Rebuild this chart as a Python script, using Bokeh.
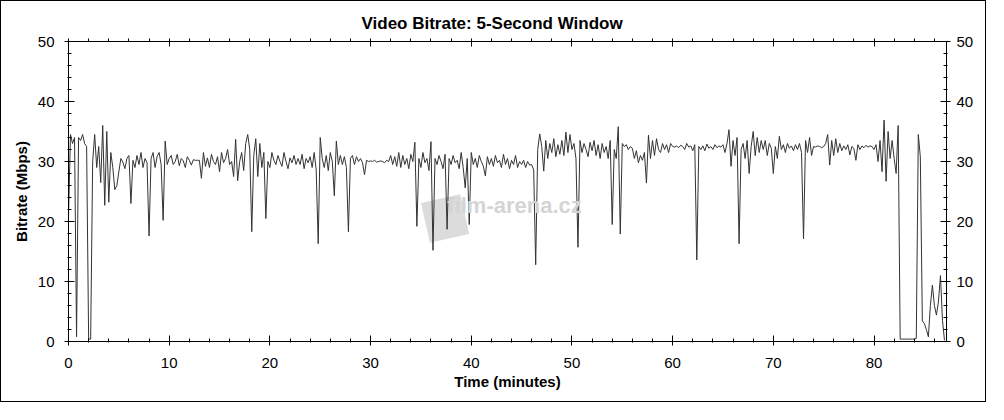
from bokeh.plotting import figure
from bokeh.models import LinearAxis, Range1d, Title, Label, SingleIntervalTicker
from bokeh.embed import file_html
from bokeh.resources import INLINE

# ---------------- data ----------------
chart_title = "Video Bitrate: 5-Second Window"
x_label = "Time (minutes)"
y_label = "Bitrate (Mbps)"
x_max_min = 87.2
y_max_mbps = 50
sample_step_min = 0.2  # one sample every 0.2 minutes
x_ticks = [0, 10, 20, 30, 40, 50, 60, 70, 80]

# bitrate in Mbps, one row per minute (5 samples each)
bitrate = [
    21.0, 34.5, 33.0, 34.0, 0.8,    # 0
    34.0, 33.5, 34.5, 33.0, 32.5,   # 1
    0.4, 0.4, 30.0, 34.5, 29.0,     # 2
    32.5, 26.5, 36.0, 22.7, 35.0,   # 3
    23.2, 31.5, 29.0, 25.3, 26.0,   # 4
    28.3, 30.5, 29.9, 28.8, 30.5,   # 5
    31.0, 23.0, 30.2, 29.0, 31.0,   # 6
    29.5, 31.5, 29.0, 30.5, 29.8,   # 7
    17.6, 30.5, 31.5, 29.0, 30.8,   # 8
    31.5, 29.5, 20.2, 33.4, 29.5,   # 9
    30.5, 31.0, 29.5, 30.0, 31.2,   # 10
    29.3, 30.5, 30.1, 29.0, 30.8,   # 11
    30.2, 29.4, 30.3, 30.2, 30.2,   # 12
    30.2, 27.2, 31.5, 29.2, 30.6,   # 13
    29.0, 31.2, 30.0, 29.5, 30.8,   # 14
    28.3, 31.5, 29.8, 30.5, 32.0,   # 15
    29.5, 30.0, 27.5, 33.7, 26.8,   # 16
    30.0, 31.5, 28.5, 33.0, 34.5,   # 17
    32.0, 18.3, 31.0, 33.8, 27.5,   # 18
    33.0, 29.0, 31.5, 20.5, 30.0,   # 19
    29.0, 31.5, 30.2, 29.5, 31.0,   # 20
    30.0, 29.2, 31.5, 30.0, 28.8,   # 21
    30.6, 29.8, 31.0, 29.5, 30.5,   # 22
    29.5, 31.2, 28.8, 30.5, 29.8,   # 23
    30.8, 29.0, 31.5, 28.6, 16.3,   # 24
    34.0, 30.5, 29.0, 31.0, 28.5,   # 25
    31.5, 30.0, 24.3, 33.4, 29.5,   # 26
    31.0, 29.5, 30.8, 29.0, 18.3,   # 27
    30.5, 31.0, 29.5, 30.8, 30.0,   # 28
    30.5, 29.8, 27.8, 30.2, 30.0,   # 29
    30.1, 30.0, 30.2, 29.9, 30.0,   # 30
    30.1, 30.0, 29.8, 30.2, 30.0,   # 31
    31.0, 29.5, 30.8, 29.2, 31.5,   # 32
    29.0, 31.0, 29.5, 30.5, 28.8,   # 33
    31.2, 30.0, 33.2, 19.2, 30.5,   # 34
    29.0, 31.5, 29.8, 30.5, 28.5,   # 35
    33.3, 15.2, 30.5, 29.5, 31.0,   # 36
    30.0, 28.8, 31.2, 18.7, 30.5,   # 37
    29.5, 31.0, 29.8, 30.2, 28.8,   # 38
    31.5, 29.0, 25.6, 30.5, 19.5,   # 39
    31.5, 29.5, 30.5, 29.0, 31.0,   # 40
    30.0, 29.2, 27.6, 30.8, 29.5,   # 41
    30.5, 29.2, 31.0, 29.8, 30.2,   # 42
    29.0, 31.2, 29.5, 30.5, 28.8,   # 43
    30.2, 29.5, 31.0, 29.0, 30.0,   # 44
    29.5, 30.2, 29.0, 30.0, 29.4,   # 45
    29.5, 28.6, 12.8, 32.0, 34.6,   # 46
    32.5, 28.4, 33.5, 30.5, 33.0,   # 47
    31.5, 33.8, 30.8, 32.8, 31.2,   # 48
    33.5, 31.0, 34.9, 31.5, 34.5,   # 49
    32.0, 33.0, 30.5, 15.7, 33.5,   # 50
    31.5, 33.0, 32.0, 30.8, 33.2,   # 51
    31.8, 33.5, 31.0, 32.8, 30.5,   # 52
    33.0, 31.5, 32.5, 30.5, 33.5,   # 53
    19.5, 32.0, 30.5, 35.8, 17.9,   # 54
    33.0, 32.5, 32.8, 32.0, 32.5,   # 55
    32.2, 30.5, 31.8, 29.8, 31.0,   # 56
    30.2, 31.5, 26.4, 34.4, 30.5,   # 57
    33.5, 31.0, 33.8, 32.0, 31.5,   # 58
    33.0, 32.0, 32.8, 31.5, 33.0,   # 59
    32.5, 32.4, 32.6, 32.3, 32.7,   # 60
    32.5, 32.0, 33.0, 32.4, 32.6,   # 61
    31.8, 32.8, 13.6, 32.5, 32.0,   # 62
    32.6, 31.8, 32.9, 32.2, 32.5,   # 63
    32.0, 32.8, 32.3, 32.6, 32.4,   # 64
    32.8, 31.5, 33.0, 35.3, 29.2,   # 65
    33.5, 31.0, 34.0, 16.3, 32.0,   # 66
    33.0, 30.5, 33.5, 28.0, 32.5,   # 67
    35.0, 31.0, 34.0, 31.5, 33.5,   # 68
    32.0, 33.5, 31.0, 33.0, 32.2,   # 69
    28.0, 32.5, 30.5, 34.2, 32.0,   # 70
    32.8, 31.5, 33.0, 32.2, 32.6,   # 71
    31.8, 32.8, 32.0, 33.0, 31.5,   # 72
    17.1, 33.5, 31.5, 34.0, 31.0,   # 73
    32.5, 32.4, 32.6, 32.5, 32.3,   # 74
    32.5, 33.0, 34.5, 29.4, 33.5,   # 75
    31.0, 33.8, 31.5, 33.0, 31.8,   # 76
    32.6, 32.0, 32.8, 31.1, 32.5,   # 77
    32.2, 30.2, 32.8, 32.0, 32.6,   # 78
    32.3, 32.7, 32.4, 32.6, 32.5,   # 79
    32.0, 32.8, 30.0, 33.5, 28.3,   # 80
    36.9, 26.7, 35.0, 30.5, 33.5,   # 81
    30.5, 28.0, 36.0, 0.4, 0.4,     # 82
    0.4, 0.4, 0.4, 0.4, 0.4,        # 83
    0.4, 0.5, 34.5, 30.8, 3.4,      # 84
    3.0, 2.0, 0.8, 6.0, 9.4,        # 85
    6.0, 4.4, 6.6, 11.0, 3.5,       # 86
    0.2,                            # 87
]
time_min = [round(i * sample_step_min, 3) for i in range(len(bitrate))]

# ---------------- styling ----------------
FONT = "Liberation Sans"
LINE_COLOR = "#333333"

p = figure(width=986, height=402, output_backend="svg", toolbar_location=None,
           x_range=Range1d(0, x_max_min), y_range=Range1d(0, y_max_mbps),
           x_axis_location=None, y_axis_location=None,
           min_border_left=67, min_border_right=41, min_border_top=40,
           min_border_bottom=62)
p.styles = {"border": "1px solid #000000"}
p.background_fill_color = "white"
p.border_fill_color = "white"
p.outline_line_color = "black"
p.outline_line_width = 1
p.xgrid.visible = False
p.ygrid.visible = False

p.title = Title(text=chart_title, align="left", offset=293, standoff=12,
                text_font=FONT, text_font_size="17px",
                text_font_style="bold", text_color="black")


def style_axis(ax, labels=True):
    ax.axis_line_color = "black"
    ax.major_tick_line_color = "black"
    ax.minor_tick_line_color = "black"
    ax.major_tick_in = 6
    ax.major_tick_out = 4
    ax.minor_tick_in = 3
    ax.minor_tick_out = 1
    ax.major_label_text_font = FONT
    ax.major_label_text_color = "black"
    ax.major_label_text_font_size = "15px"
    ax.axis_label_text_font = FONT
    ax.axis_label_text_font_style = "bold"
    ax.axis_label_text_font_size = "15px"
    ax.axis_label_text_color = "black"


xb = LinearAxis(ticker=SingleIntervalTicker(interval=10, num_minor_ticks=5),
                axis_label=x_label)
style_axis(xb)
xb.major_label_standoff = 12
xb.axis_label_standoff = 2
p.add_layout(xb, "below")

xt = LinearAxis(ticker=SingleIntervalTicker(interval=10, num_minor_ticks=5))
style_axis(xt)
xt.major_label_overrides = {t: "" for t in x_ticks}
xt.major_tick_in = 5
xt.major_tick_out = 0
xt.minor_tick_in = 0
xt.minor_tick_out = 3
xt.major_label_standoff = 0
p.add_layout(xt, "above")

yl = LinearAxis(ticker=SingleIntervalTicker(interval=10, num_minor_ticks=5),
                axis_label=y_label)
style_axis(yl)
yl.major_label_standoff = 10
yl.axis_label_standoff = 5
p.add_layout(yl, "left")

yr = LinearAxis(ticker=SingleIntervalTicker(interval=10, num_minor_ticks=5))
style_axis(yr)
yr.major_label_standoff = 6
p.add_layout(yr, "right")

# ---------------- watermark (decoration, drawn under the data) ----------------
wm_color = "#dcdcdc"
p.rect(x=[37.4], y=[20.5], width=4.0, height=6.8, angle=0.22,
       fill_color=wm_color, line_color=None)
p.add_layout(Label(x=44.3, y=22.7, text="film-arena.cz", text_font=FONT,
                   text_font_size="22px", text_font_style="bold",
                   text_color="#d4d4d4", text_align="center",
                   text_baseline="middle"))

# ---------------- data line ----------------
p.line(time_min, bitrate, line_color=LINE_COLOR, line_width=1)

open("out.html", "w").write(file_html(p, INLINE))
